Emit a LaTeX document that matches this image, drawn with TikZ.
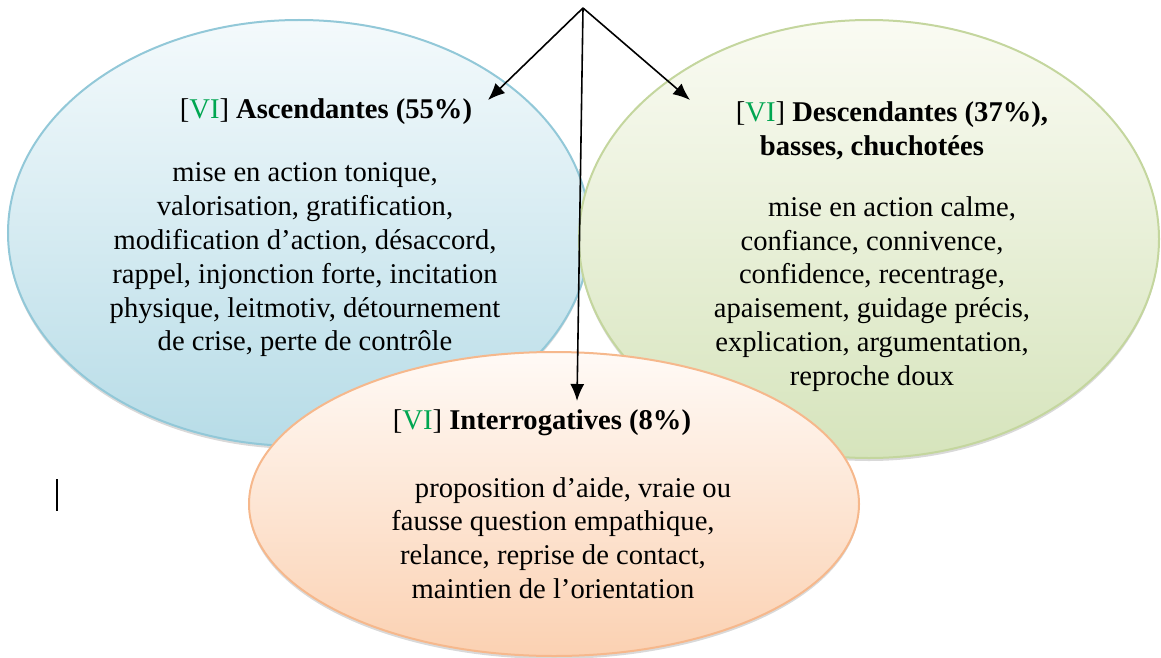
\documentclass[tikz,border=0pt]{standalone}
\usepackage{fontspec}
\setmainfont{Liberation Serif}
\usepackage{xcolor}
\usetikzlibrary{arrows.meta,positioning,shapes.geometric,shadows}

\definecolor{ascline}{RGB}{146,200,216}
\definecolor{asctop}{RGB}{244,250,252}
\definecolor{ascbot}{RGB}{183,220,231}
\definecolor{desline}{RGB}{196,214,158}
\definecolor{destop}{RGB}{250,251,243}
\definecolor{desbot}{RGB}{214,228,188}
\definecolor{intline}{RGB}{246,184,140}
\definecolor{inttop}{RGB}{255,250,246}
\definecolor{intbot}{RGB}{251,209,178}
\definecolor{vigreen}{RGB}{0,166,81}

\newcommand{\VIlabel}{{\mdseries[\textcolor{vigreen}{VI}]}}

\begin{document}
\begin{tikzpicture}[x=0.5pt, y=-0.5pt, >={Latex[length=8.5pt,width=7pt]},
  bubble/.style={ellipse, line width=1pt, inner sep=0pt,
    drop shadow={shadow xshift=0pt, shadow yshift=-1.5pt, opacity=0.3}},
  txt/.style={align=center, inner sep=0pt, font=\fontsize{14.3}{16.9}\selectfont},
  head/.style={txt, font=\fontsize{14.3}{16.9}\selectfont\bfseries},
  link/.style={->, line width=0.8pt}]
  \useasboundingbox (0,0) rectangle (1161,658);
  % ascendantes
  \node[bubble, draw=ascline, top color=asctop, bottom color=ascbot,
    minimum width=291pt, minimum height=213pt] (asc) at (299,233) {};
  \node[head] (ascHead) at (326,112) {\VIlabel{} Ascendantes (55\%)};
  \node[txt] (ascText) at (305,260) {mise en action tonique,\\
    valorisation, gratification,\\
    modification d’action, désaccord,\\
    rappel, injonction forte, incitation\\
    physique, leitmotiv, détournement\\
    de crise, perte de contrôle};
  % descendantes
  \node[bubble, draw=desline, top color=destop, bottom color=desbot,
    minimum width=290pt, minimum height=219pt] (des) at (869,239) {};
  \node[head] (desHead) at (882,131) {\hspace*{10pt}\VIlabel{} Descendantes (37\%),\\
    basses, chuchotées\hspace*{10pt}};
  \node[txt] (desText) at (872,294) {\hspace*{20pt}mise en action calme,\\
    confiance, connivence,\\
    confidence, recentrage,\\
    apaisement, guidage précis,\\
    explication, argumentation,\\
    reproche doux};
  % interrogatives
  \node[bubble, draw=intline, top color=inttop, bottom color=intbot,
    minimum width=305pt, minimum height=152pt] (int) at (554,504) {};
  \node[head] (intHead) at (542,423) {\VIlabel{} Interrogatives (8\%)};
  \node[txt] (intText) at (553,538) {\hspace*{20pt}proposition d’aide, vraie ou\\
    fausse question empathique,\\
    relance, reprise de contact,\\
    maintien de l’orientation};
  % arrows
  \coordinate (top) at (583,8);
  \coordinate (ascTip) at (488,100);
  \coordinate (desTip) at (690,100);
  \coordinate (intTip) at (577,401);
  \draw[link] (top) -- (ascTip);
  \draw[link] (top) -- (desTip);
  \draw[link] (top) -- (intTip);
  % cursor mark
  \draw[line width=1pt] (57,479) -- (57,511);
\end{tikzpicture}
\end{document}
